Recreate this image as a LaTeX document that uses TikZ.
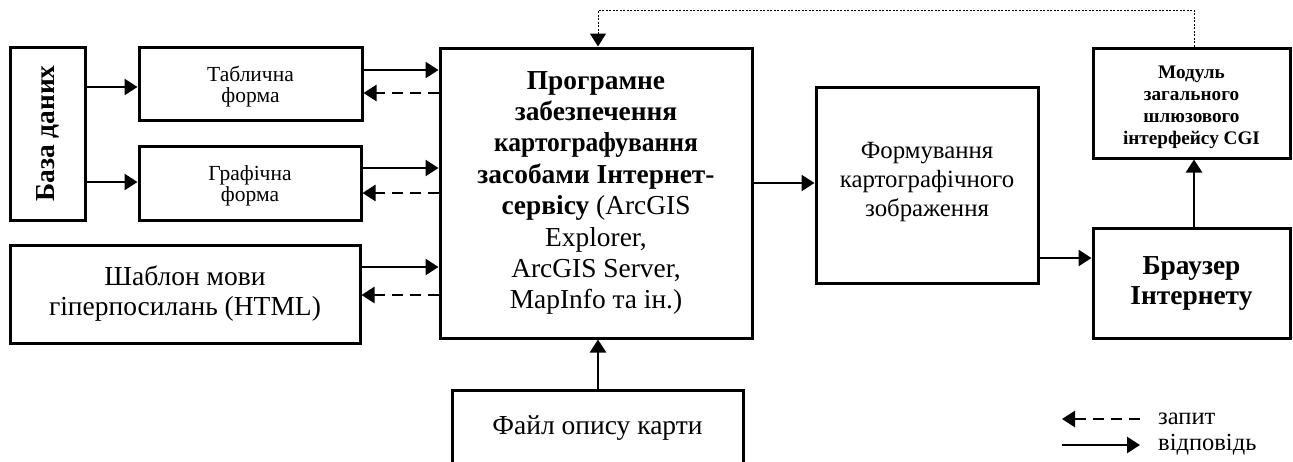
\documentclass[tikz,border=0pt]{standalone}
\usepackage{fontspec}
\setmainfont{Liberation Serif}
\usetikzlibrary{arrows.meta}
\newcommand{\fs}[2]{\fontsize{#1}{#2}\selectfont}
\newcommand{\lowstack}[2]{\raisebox{-#1}[\height][\depth]{\begin{tabular}{@{}c@{}}#2\end{tabular}}}
\begin{document}
\begin{tikzpicture}[x=1pt,y=-1pt,
  box/.style={draw,line width=3pt,inner sep=0pt,align=center,anchor=center},
  resp/.style={line width=2.6pt,-{Triangle[length=13pt,width=16pt]}},
  req/.style={line width=2.6pt,dash pattern=on 11pt off 7pt,-{Triangle[length=13pt,width=16pt]}},
  dotl/.style={line width=1pt,dash pattern=on 2pt off 1.5pt,-{Triangle[length=13pt,width=16pt]}}]
\useasboundingbox (0,0) rectangle (1293,461);
% boxes
\node[box,minimum width=75pt,minimum height=173pt] (db) at (47.5,133.5)
  {\rotatebox{90}{\fs{27.4}{30}\bfseries База даних}};
\node[box,minimum width=223pt,minimum height=73pt,font=\fs{21.5}{20.5}] (tab) at (250.5,83.5)
  {\lowstack{4pt}{Таблична\\форма}};
\node[box,minimum width=222pt,minimum height=74pt,font=\fs{21.5}{20.5}] (graf) at (250,183)
  {\lowstack{4pt}{Графічна\\форма}};
\node[box,minimum width=350pt,minimum height=98pt,font=\fs{27.5}{30}] (html) at (185,294)
  {Шаблон мови\\гіперпосилань (HTML)};
\node[box,minimum width=312pt,minimum height=290pt,font=\fs{27.4}{31.4}] (main) at (596,193)
  {\textbf{Програмне}\\\textbf{забезпечення}\\\scalebox{0.93}[1]{\textbf{картографування}}\\\textbf{засобами Інтернет-}\\\textbf{сервісу} (ArcGIS\\Explorer,\\ArcGIS Server,\\MapInfo та ін.)};
\node[box,minimum width=291pt,minimum height=76pt,font=\fs{27.5}{30}] (file) at (597.5,428)
  {Файл опису карти};
\node[box,minimum width=222pt,minimum height=196pt,font=\fs{24.8}{29}] (form) at (927,185)
  {\lowstack{-3pt}{Формування\\картографічного\\зображення}};
\node[box,minimum width=197pt,minimum height=110pt,font=\fs{27.4}{30}\bfseries] (brow) at (1191.5,283)
  {Браузер\\Інтернету};
\node[box,minimum width=197pt,minimum height=110pt,font=\fs{19.2}{22}\bfseries] (mod) at (1191.5,103)
  {\lowstack{4pt}{Модуль\\загального\\шлюзового\\інтерфейсу CGI}};
% connectors
\draw[resp] (db.east |- 0,87) -- (tab.west |- 0,87);
\draw[resp] (db.east |- 0,182) -- (graf.west |- 0,182);
\draw[resp] (tab.east |- 0,70) -- (main.west |- 0,70);
\draw[req] (main.west |- 0,93) -- (tab.east |- 0,93);
\draw[resp] (graf.east |- 0,168) -- (main.west |- 0,168);
\draw[req] (main.west |- 0,193) -- (graf.east |- 0,193);
\draw[resp] (html.east |- 0,267) -- (main.west |- 0,267);
\draw[req] (main.west |- 0,295) -- (html.east |- 0,295);
\draw[resp] (file.north -| 598,0) -- (main.south -| 598,0);
\draw[resp] (main.east |- 0,183) -- (form.west |- 0,183);
\draw[resp] (form.east |- 0,258) -- (brow.west |- 0,258);
\draw[resp] (brow.north -| 1194,0) -- (mod.south -| 1194,0);
\coordinate (t1) at (1194,10);
\coordinate (t2) at (598,10);
\draw[dotl] (mod.north -| 1194,0) -- (t1) -- (t2) -- (main.north -| 598,0);
% legend
\coordinate (la) at (1140,419);
\coordinate (lb) at (1062,419);
\coordinate (lc) at (1062,445);
\coordinate (ld) at (1140,445);
\draw[req] (la) -- (lb);
\draw[resp] (lc) -- (ld);
\node[anchor=west,inner sep=0pt,font=\fs{24.5}{26}] (lq) at (1158,419) {запит};
\node[anchor=west,inner sep=0pt,font=\fs{24.5}{26}] (lr) at (1158,445) {відповідь};
\end{tikzpicture}
\end{document}
